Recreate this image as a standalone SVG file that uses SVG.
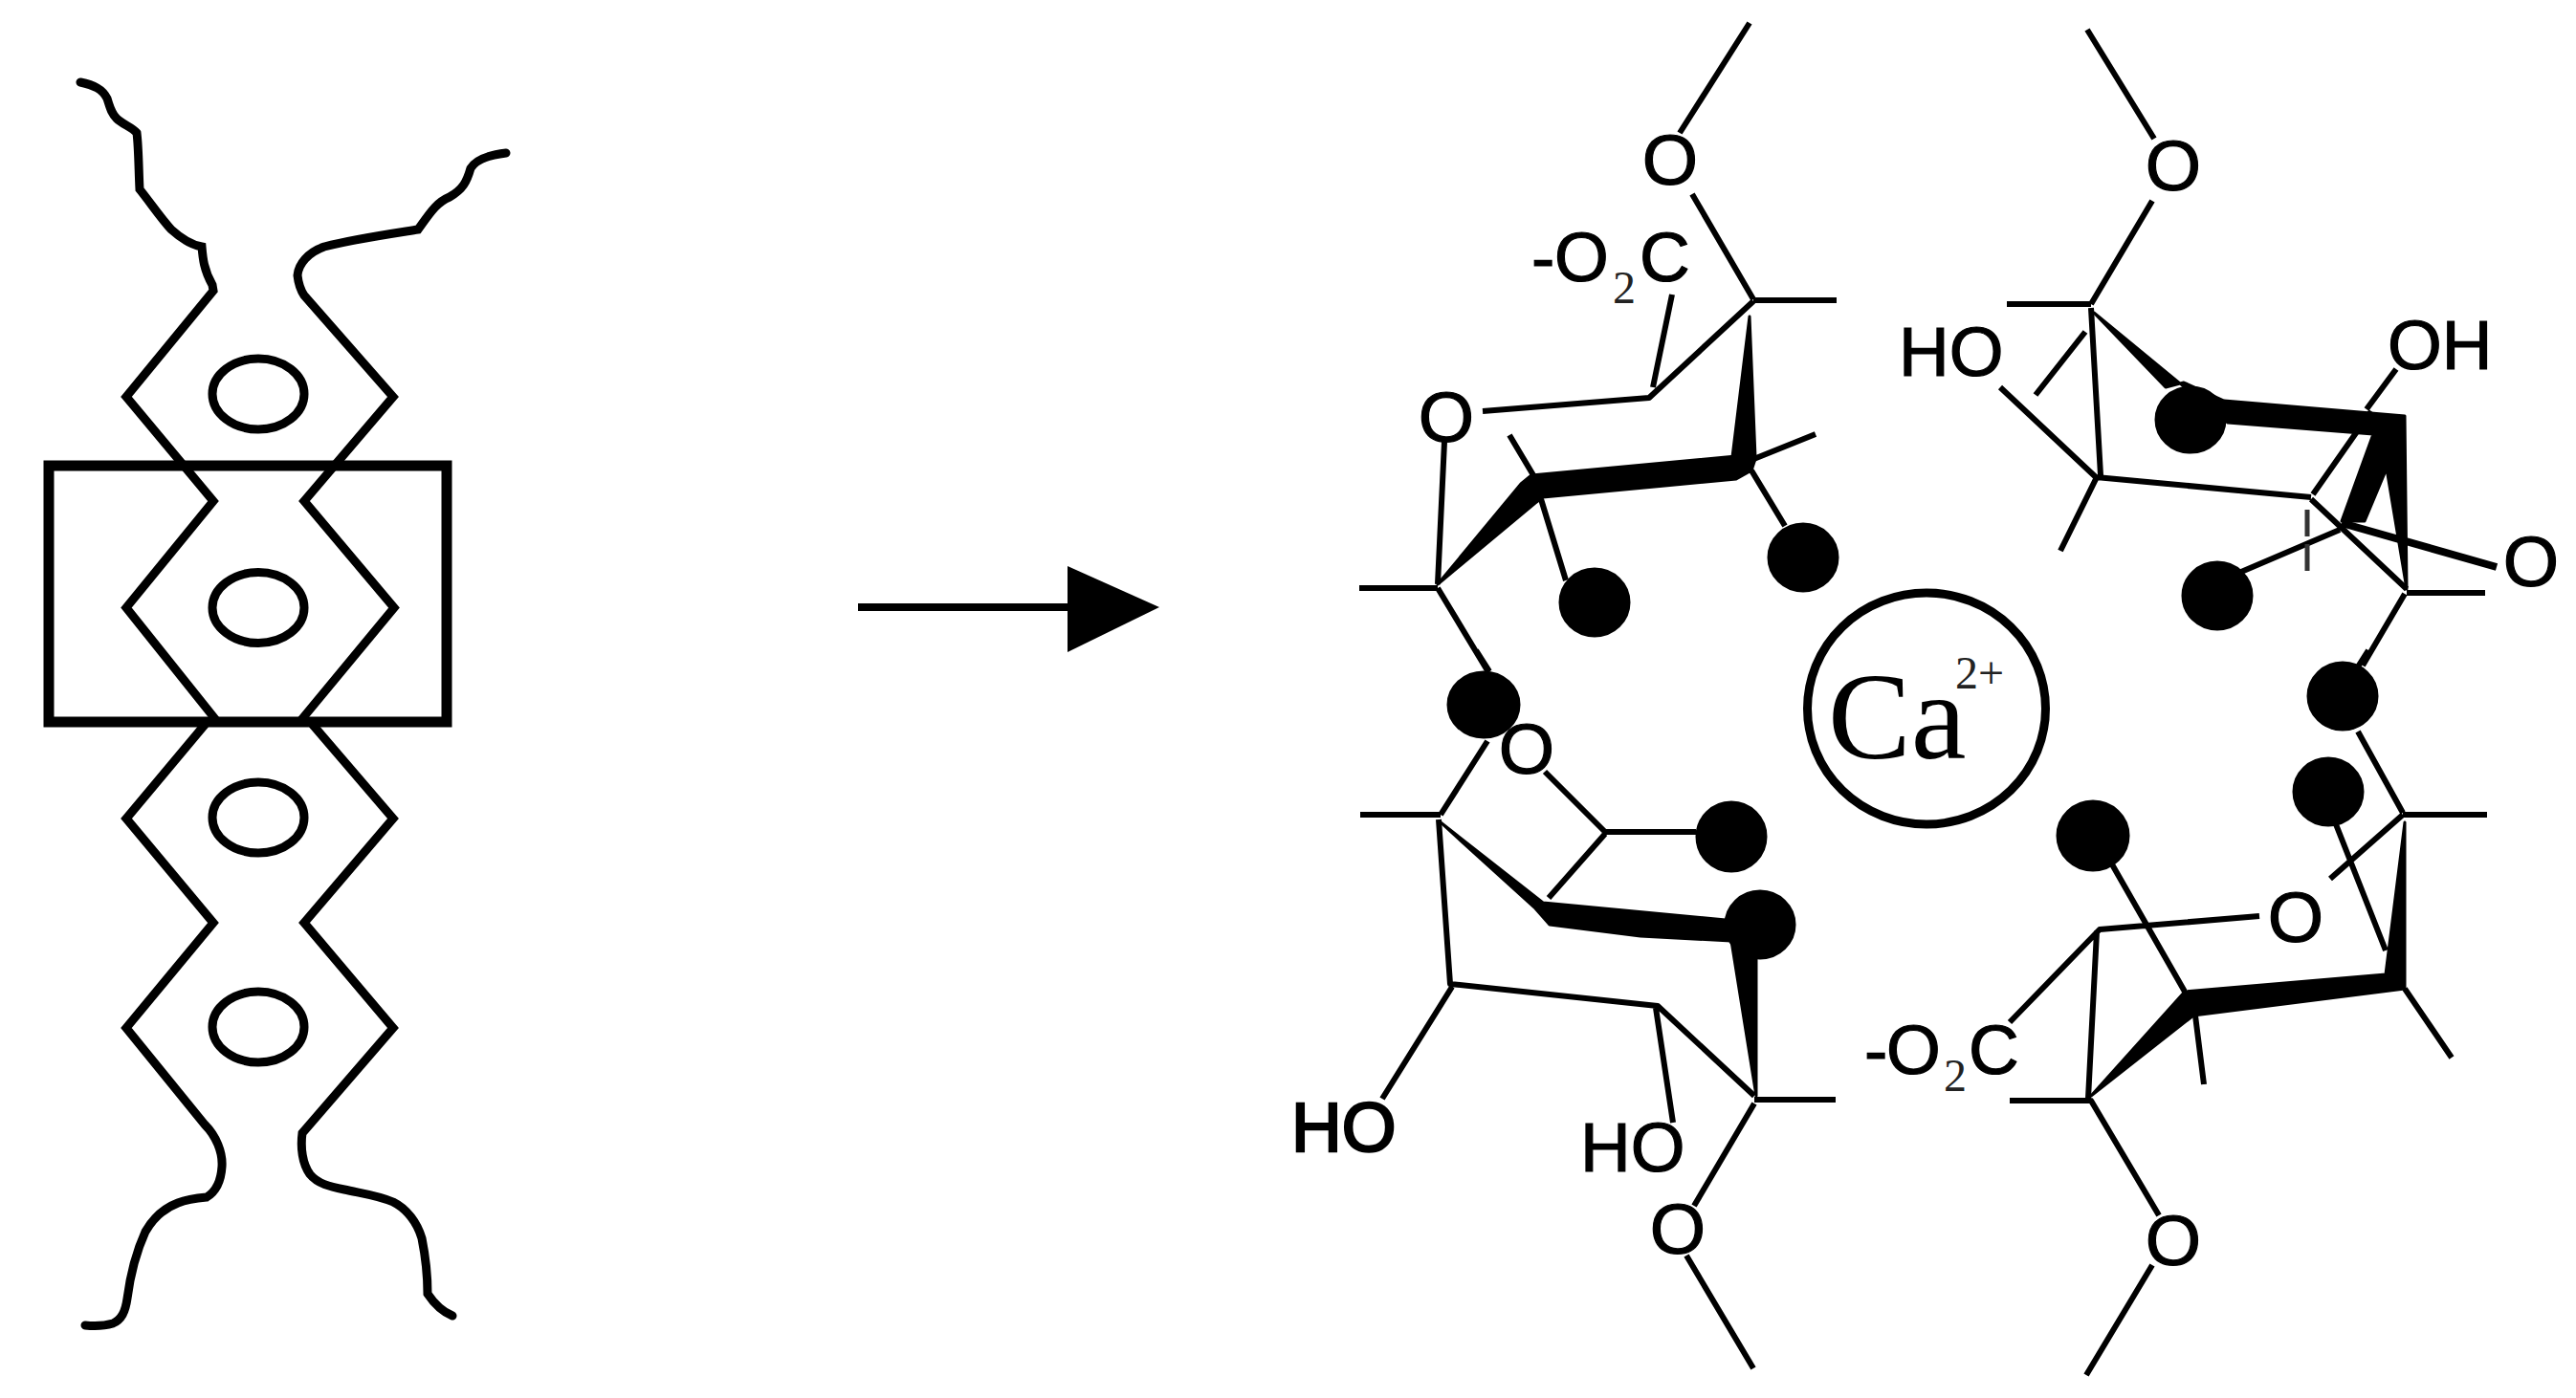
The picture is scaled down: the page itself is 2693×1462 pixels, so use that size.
<svg xmlns="http://www.w3.org/2000/svg" width="2693" height="1462" viewBox="0 0 2693 1462">
<style>
.b{fill:none;stroke:#000;stroke-width:6;stroke-linecap:butt;stroke-linejoin:round}
.t{fill:none;stroke:#000;stroke-width:9;stroke-linecap:round;stroke-linejoin:miter}
.e{fill:none;stroke:#000;stroke-width:9}
.k{fill:#000;stroke:#000;stroke-width:3;stroke-linejoin:round}
text{fill:#000;stroke:#000;stroke-width:1.200;font-family:"Liberation Sans",Arial,sans-serif;font-size:73px}
.o{font-size:75px;text-anchor:middle}
.s{font-family:"Liberation Serif","Times New Roman",serif;font-size:48px;fill:#222;stroke:none}
</style>
<rect width="2693" height="1462" fill="#fff"/>
<g id="polymer-chain">
<rect x="51" y="487" width="416" height="268" fill="none" stroke="#000" stroke-width="11"/>
<path class="t" d="M84 86C98 89 107 93 112 103C115 112 116 118 122 124C128 130 138 133 143 139C145 155 145 180 146 198C158 213 168 228 179 240C190 250 200 256 211 258C212 270 213 282 222 298L223 304L132 415L223 524L132 635.500L225 752"/>
<path class="t" d="M529 160C512 162 498 166 492 176C488 190 484 198 470 206C456 212 450 222 437 240C405 245 370 250 339 258C322 264 312 276 311 288C312 297 314 303 318 309L411 415L318 524L412 635.500L314 754"/>
<path class="t" d="M214 758L132 856L223 965L132 1075L214 1176C226 1188 233 1205 232 1220C231 1236 226 1246 216 1252C205 1253 196 1254 186 1258C170 1264 160 1274 152 1288C142 1310 136 1335 133 1358C131 1372 127 1380 118 1384C108 1387 99 1387 89 1386"/>
<path class="t" d="M327 758L411 856L318 965L411 1075L316 1185C314 1200 316 1217 324 1228C332 1238 345 1241 360 1244C378 1248 395 1250 411 1257C425 1264 436 1278 441 1295C445 1315 447 1335 447 1353C455 1365 463 1372 473 1376"/>
<ellipse class="e" cx="270" cy="412" rx="48" ry="37"/>
<ellipse class="e" cx="270" cy="635.500" rx="48" ry="37"/>
<ellipse class="e" cx="270" cy="855" rx="48" ry="37"/>
<ellipse class="e" cx="270" cy="1074" rx="48" ry="37"/>
</g>
<g id="reaction-arrow">
<path d="M897 635H1120" fill="none" stroke="#000" stroke-width="8"/>
<polygon points="1116,592 1212,635 1116,682" fill="#000"/>
</g>
<g id="ring-top-left">
<path class="b" d="M1829 24L1756 139M1769 203L1833 313M1833 314H1920M1833 315L1724 416L1550 430M1748 308L1728 405M1510 462L1503 611M1421 615H1503M1503 615L1556 703M1578 455L1603 497M1611 522L1637 607M1831 492L1866 550M1831 481L1898 454"/>
<polygon class="k" points="1829,331 1811,478 1835,478"/>
<polygon class="k" points="1601,497 1815,477 1835,480 1831,492 1815,501 1613,520 1605,526 1503,611 1590,506"/>
<ellipse class="k" cx="1667" cy="630" rx="36" ry="35"/>
<ellipse class="k" cx="1885" cy="583" rx="36" ry="35"/>
<text class="o" x="1746" y="193">O</text>
<text class="o" x="1512" y="462">O</text>
<text y="294"><tspan x="1601">-</tspan><tspan x="1625">O</tspan><tspan class="s" x="1686" y="317">2</tspan><tspan x="1714" y="294">C</tspan></text>
</g>
<g id="ring-top-right">
<path class="b" d="M2182 31L2252 145M2250 210L2186 318M2098 318H2186M2186 322L2196 497M2180 347L2128 413M2091 405L2191 499L2416 520M2191 501L2154 576M2418 517L2479 430M2505 386L2474 428M2416 522L2516 616M2516 620H2598M2514 621L2470 696M2446 554L2343 598"/>
<path d="M2448 547L2610 593" fill="none" stroke="#000" stroke-width="8"/>
<path d="M2412 533V605" fill="none" stroke="#333" stroke-width="5" stroke-dasharray="28 8"/>
<polygon class="k" points="2189,327 2264,405 2283,400 2325,419 2514,435 2516,616 2495,490 2472,545 2448,545 2481,454 2329,442"/>
<ellipse class="k" cx="2290" cy="439" rx="36" ry="34"/>
<ellipse class="k" cx="2318" cy="623" rx="36" ry="35"/>
<text class="o" x="2272" y="199">O</text>
<text class="o" x="2646" y="613">O</text>
<text x="1985" y="393">HO</text>
<text x="2496" y="386">OH</text>
</g>
<g id="ring-bottom-right">
<path class="b" d="M2465 765L2512 850M2476 680L2462 702M2512 852H2600M2442 862L2494 994M2512 852L2436 919M2362 958L2195 972L2101 1069M2192 974L2183 1149M2295 1062L2304 1134M2208 904L2284 1037M2101 1151H2186L2257 1271M2250 1323L2181 1438M2514 1034L2563 1106"/>
<polygon class="k" points="2514,860 2514,1034 2293,1062 2186,1146 2284,1037 2494,1019"/>
<ellipse class="k" cx="2449" cy="728" rx="36" ry="35"/>
<ellipse class="k" cx="2434" cy="828" rx="36" ry="35"/>
<ellipse class="k" cx="2188" cy="874" rx="37" ry="36"/>
<text class="o" x="2400" y="985">O</text>
<text class="o" x="2272" y="1323">O</text>
<text y="1123"><tspan x="1949">-</tspan><tspan x="1972">O</tspan><tspan class="s" x="2032" y="1141">2</tspan><tspan x="2058" y="1123">C</tspan></text>
</g>
<g id="ring-bottom-left">
<path class="b" d="M1543 680L1557 702M1555 775L1506 852M1422 852H1506M1615 807L1678 870H1773M1678 872L1619 939M1504 857L1516 1029L1733 1052L1834 1146M1731 1054L1749 1174M1518 1032L1445 1149M1834 1150H1919M1834 1154L1771 1261M1763 1313L1833 1431"/>
<polygon class="k" points="1506,860 1613,944 1804,962 1812,989 1836,999 1836,1146 1810,984 1715,979 1620,967 1605,950"/>
<ellipse class="k" cx="1551" cy="737" rx="37" ry="34"/>
<ellipse class="k" cx="1810" cy="875" rx="36" ry="36"/>
<ellipse class="k" cx="1840" cy="967" rx="36" ry="35"/>
<ellipse cx="1596" cy="782" rx="24" ry="26" fill="#fff"/>
<text class="o" x="1596" y="809">O</text>
<text class="o" x="1754" y="1311">O</text>
<text x="1350" y="1204" stroke-width="2" style="stroke-width:2.500">HO</text>
<text x="1652" y="1225">HO</text>
</g>
<g id="calcium-ion">
<ellipse cx="2014" cy="741" rx="124.500" ry="121" fill="none" stroke="#000" stroke-width="9"/>
<text x="1911" y="793" style="font-family:'Liberation Serif',serif;font-size:130px;stroke:none">Ca<tspan class="s" x="2044" y="720">2+</tspan></text>
</g>
</svg>
